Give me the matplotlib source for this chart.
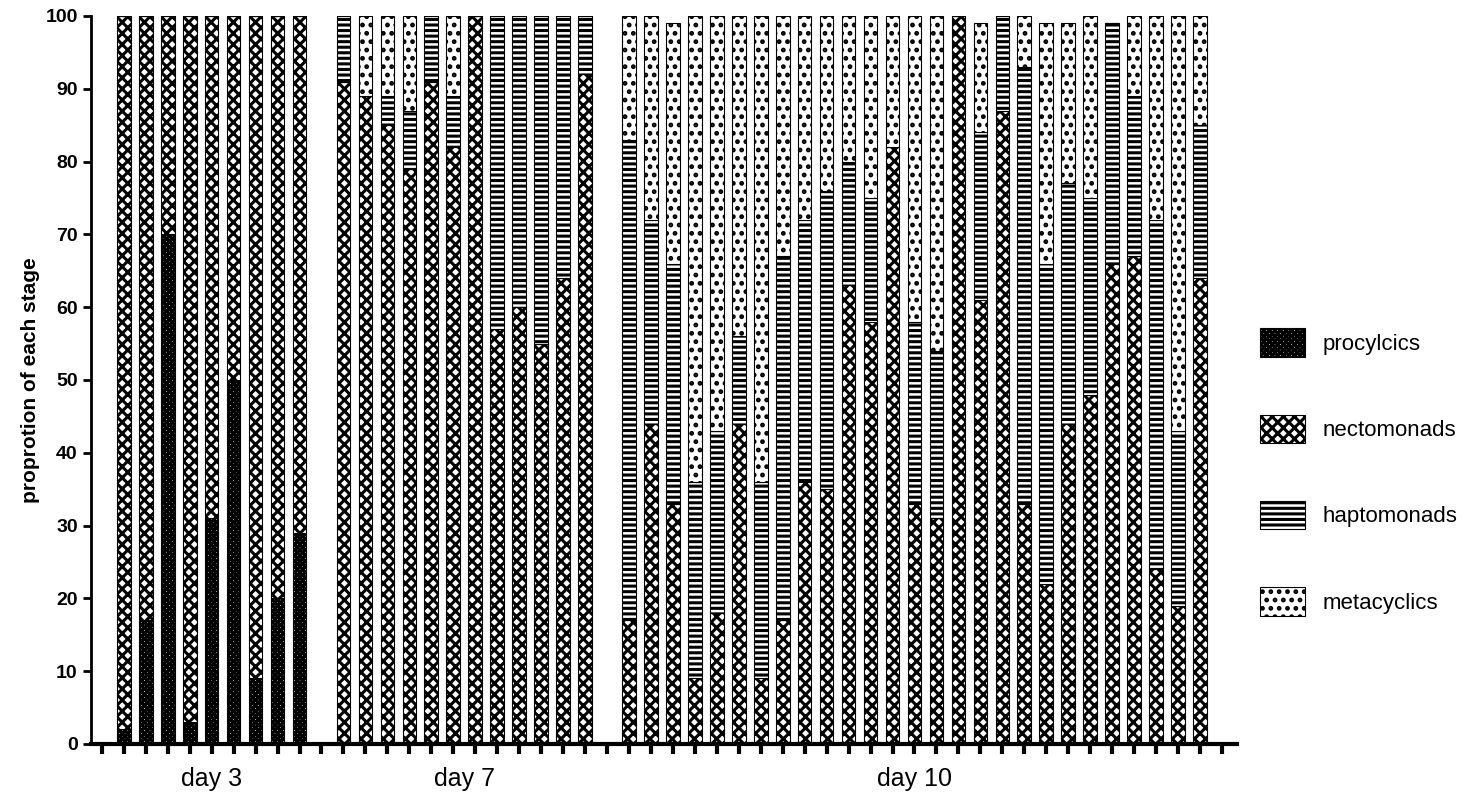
import matplotlib
matplotlib.use("Agg")
import matplotlib.pyplot as plt
import numpy as np

groups = ["day 3", "day 7", "day 10"]
procyclics = [2,17,70,3,31,50,9,20,29] + [0]*12 + [0]*27
nectomonads = [98,83,30,97,69,50,91,80,71] + \
    [91,89,85,79,91,82,100,57,60,55,64,92] + \
    [17,44,33,9,18,44,9,17,36,35,63,58,82,33,31,100,61,87,33,22,44,48,66,67,24,19,64]
haptomonads = [0]*9 + [9,0,4,8,9,7,0,43,40,45,36,8] + \
    [66,28,33,27,25,12,27,50,36,41,17,17,0,25,23,0,23,13,60,44,33,27,33,22,48,24,21]
metacyclics = [0]*9 + [0,11,11,13,0,11,0,0,0,0,0,0] + \
    [17,28,33,64,57,44,64,33,28,24,20,25,18,42,46,0,15,0,7,33,22,25,0,11,28,57,15]
group_sizes = [9, 12, 27]

plt.rcParams['font.family'] = ['Liberation Sans', 'DejaVu Sans']
plt.rcParams['hatch.linewidth'] = 2.2
fig = plt.figure(figsize=(14.66, 8.0), dpi=100)
ax = fig.add_axes([0.062, 0.07, 0.782, 0.91])

pos = []
start = 1
centers = []
for n in group_sizes:
    p = list(range(start, start + n))
    pos += p
    centers.append((p[0] + p[-1]) / 2)
    start += n + 1
pos = np.array(pos)
w = 0.62
series = [(procyclics, 'xxxxxx', 'procylcics'), (nectomonads, 'xxx', 'nectomonads'),
          (haptomonads, '---', 'haptomonads'), (metacyclics, '..', 'metacyclics')]
bottom = np.zeros(len(pos))
handles = []
for vals, h, lab in series:
    v = np.array(vals, dtype=float)
    b = ax.bar(pos, v, w, bottom=bottom, color='white', edgecolor='black',
               hatch=h, linewidth=0.8, label=lab)
    handles.append(b)
    bottom += v

ax.set_xlim(-0.5, start - 0.3)
ax.set_ylim(0, 100)
ax.set_yticks(range(0, 101, 10))
ax.set_xticks(np.arange(0, start))
ax.set_xticklabels([])
ax.tick_params(axis='x', length=7, width=3, direction='out')
ax.tick_params(axis='y', labelsize=14, width=2, length=6)
for t in ax.get_yticklabels():
    t.set_fontweight('bold')
for s in ['top', 'right']:
    ax.spines[s].set_visible(False)
ax.spines['bottom'].set_linewidth(3)
ax.spines['left'].set_linewidth(2)
ax.set_ylabel('proprotion of each stage', fontsize=15, fontweight='bold')
for c, g in zip(centers, groups):
    ax.text(c, -3.2, g, ha='center', va='top', fontsize=18)

fig.legend(handles=handles, loc='center left', bbox_to_anchor=(0.846, 0.41),
           frameon=False, fontsize=16, labelspacing=2.6, handlelength=2.0,
           handleheight=1.6, handletextpad=0.8)
fig.savefig('out.png', dpi=100)
